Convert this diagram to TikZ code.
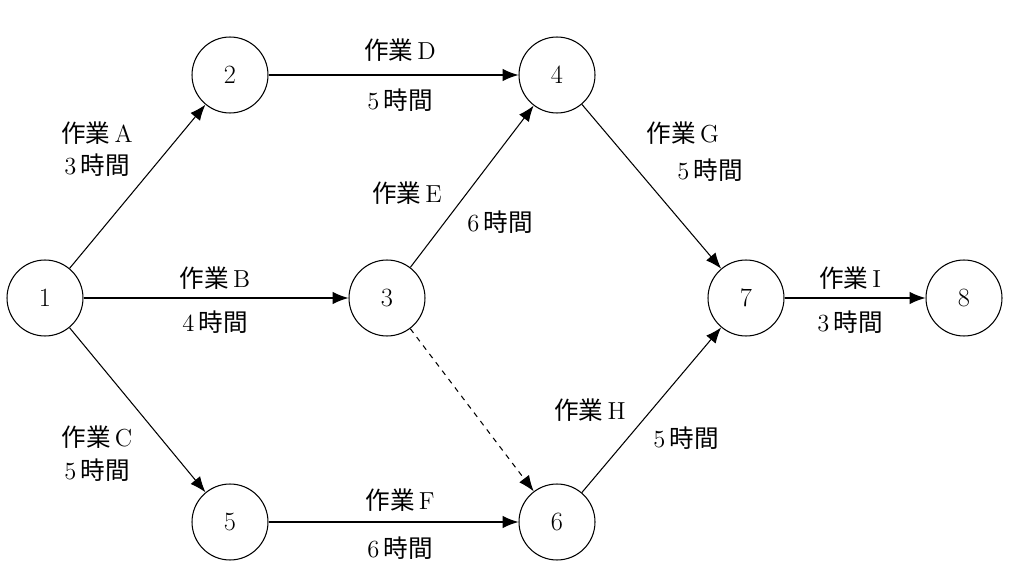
\documentclass[tikz,border=0pt]{standalone}
\usepackage{fontspec}
\newfontfamily\cjk{Noto Sans CJK JP}
\usetikzlibrary{arrows.meta}
\newcommand{\sg}{{\cjk 作業}\,}
\newcommand{\jk}{\,{\cjk 時間}}
\begin{document}
\begin{tikzpicture}[x=0.02cm,y=-0.02cm,
  st/.style={circle,draw,line width=0.6pt,minimum size=1.52cm,inner sep=0pt,font=\fontsize{15}{17}\selectfont},
  lb/.style={font=\fontsize{14}{16}\selectfont,inner sep=1pt},
  ar/.style={-{Latex[length=9pt,width=7pt]},line width=0.6pt}]
\useasboundingbox (0,0) rectangle (1018,574);
\node[st] (n1) at (45,298) {1};
\node[st] (n2) at (230,75) {2};
\node[st] (n3) at (387,298) {3};
\node[st] (n4) at (557,75) {4};
\node[st] (n5) at (230,522) {5};
\node[st] (n6) at (557,522) {6};
\node[st] (n7) at (746,298) {7};
\node[st] (n8) at (964,298) {8};
\draw[ar] (n1) -- (n2);
\draw[ar] (n1) -- (n3);
\draw[ar] (n1) -- (n5);
\draw[ar] (n2) -- (n4);
\draw[ar] (n3) -- (n4);
\draw[ar,dashed] (n3) -- (n6);
\draw[ar] (n5) -- (n6);
\draw[ar] (n4) -- (n7);
\draw[ar] (n6) -- (n7);
\draw[ar] (n7) -- (n8);
\node[lb] (la1) at (97,133) {\sg A};
\node[lb] (la2) at (97,165) {3\jk};
\node[lb] (ld1) at (400,50) {\sg D};
\node[lb] (ld2) at (400,100) {5\jk};
\node[lb] (le1) at (407,193) {\sg E};
\node[lb] (le2) at (500,222) {6\jk};
\node[lb] (lb1) at (215,278) {\sg B};
\node[lb] (lb2) at (215,322) {4\jk};
\node[lb] (lc1) at (97,437) {\sg C};
\node[lb] (lc2) at (97,470) {5\jk};
\node[lb] (lf1) at (400,500) {\sg F};
\node[lb] (lf2) at (400,548) {6\jk};
\node[lb] (lg1) at (683,133) {\sg G};
\node[lb] (lg2) at (710,170) {5\jk};
\node[lb] (lh1) at (590,410) {\sg H};
\node[lb] (lh2) at (686,438) {5\jk};
\node[lb] (li1) at (850,278) {\sg I};
\node[lb] (li2) at (850,322) {3\jk};
\end{tikzpicture}
\end{document}
